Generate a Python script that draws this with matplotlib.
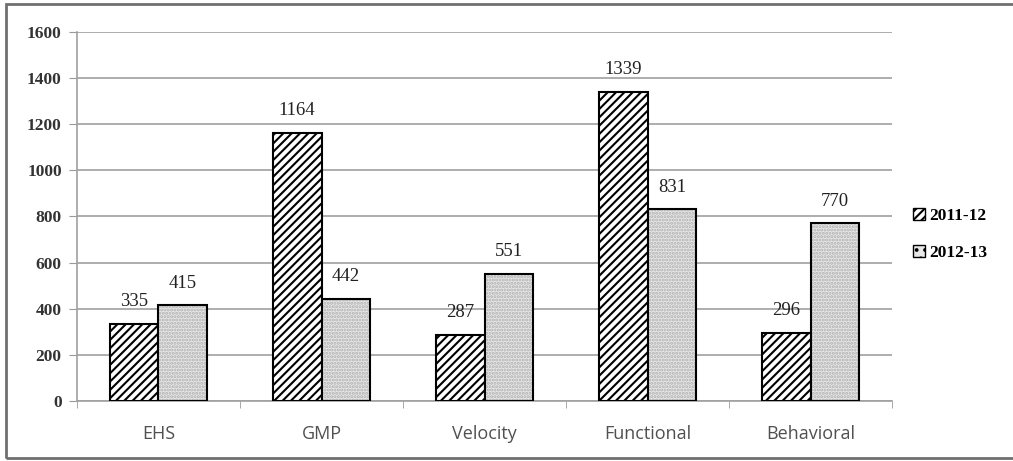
import matplotlib.pyplot as plt
import matplotlib.patches as mpatches
import numpy as np

# dados do gráfico
categorias = ['EHS', 'GMP', 'Velocity', 'Functional', 'Behavioral']
valores_2011 = [335, 1164, 287, 1339, 296]
valores_2012 = [415, 442, 551, 831, 770]
rotulos_series = ['2011-12', '2012-13']

plt.rcParams['hatch.linewidth'] = 1.5

fig = plt.figure(figsize=(10.13, 4.61), dpi=100)
ax = fig.add_axes([0.076, 0.1302, 0.8046, 0.8004])

x = np.arange(len(categorias))
w = 0.3

# série 2011-12: listrada
ax.bar(x - w / 2, valores_2011, w, facecolor='white', edgecolor='black',
       hatch='////', linewidth=1.5, zorder=3)
# série 2012-13: pontilhada (duas camadas para ter borda preta)
ax.bar(x + w / 2, valores_2012, w, facecolor='#e8e8e8', edgecolor='#b0b0b0',
       hatch='.....', linewidth=0, zorder=3)
ax.bar(x + w / 2, valores_2012, w, facecolor='none', edgecolor='black',
       linewidth=1.5, zorder=4)

for xs, vals in [(x - w / 2, valores_2011), (x + w / 2, valores_2012)]:
    for xi, v in zip(xs, vals):
        ax.annotate(str(v), (xi, v), xytext=(0, 16), textcoords='offset points',
                    ha='center', va='center', fontsize=13.5,
                    family='Liberation Serif', color='#222222')

ax.set_xlim(-0.5, len(categorias) - 0.5)
ax.set_ylim(0, 1600)
ax.set_yticks(np.arange(0, 1601, 200))
ax.set_xticks(x)
ax.set_xticklabels(categorias, fontsize=13, family='Open Sans', color='#505050')
ax.set_xticks(np.arange(-0.5, len(categorias), 1), minor=True)
ax.tick_params(axis='x', which='major', length=0, pad=17)
ax.tick_params(axis='x', which='minor', length=5, color='#999999')
ax.tick_params(axis='y', length=6, color='#999999', pad=5)
for lb in ax.get_yticklabels():
    lb.set_family('Liberation Serif')
    lb.set_fontweight('bold')
    lb.set_fontsize(12.5)
    lb.set_color('#333333')

ax.grid(axis='y', color='#a0a0a0', linewidth=1.2, zorder=0)
ax.set_axisbelow(True)
for s in ['top', 'right']:
    ax.spines[s].set_visible(False)
ax.spines['left'].set_color('#a0a0a0')
ax.spines['bottom'].set_color('#a0a0a0')
ax.spines['left'].set_linewidth(1.2)
ax.spines['bottom'].set_linewidth(1.2)

h1 = mpatches.Patch(facecolor='white', edgecolor='black', hatch='////')
h2 = mpatches.Patch(facecolor='#e8e8e8', edgecolor='black', hatch='..')
fig.legend([h1, h2], rotulos_series, loc='center left',
           bbox_to_anchor=(0.886, 0.492), frameon=False,
           handlelength=0.7, handleheight=0.7, handletextpad=0.2,
           labelspacing=1.2,
           prop={'family': 'Liberation Serif', 'weight': 'bold', 'size': 12.5})

# moldura externa
fig.patches.append(mpatches.Rectangle((6 / 1013, 3 / 461), 1.0, 1 - 7 / 461,
                                      transform=fig.transFigure, fill=False,
                                      edgecolor='#707070', linewidth=2))

plt.savefig('out.png', dpi=100)
